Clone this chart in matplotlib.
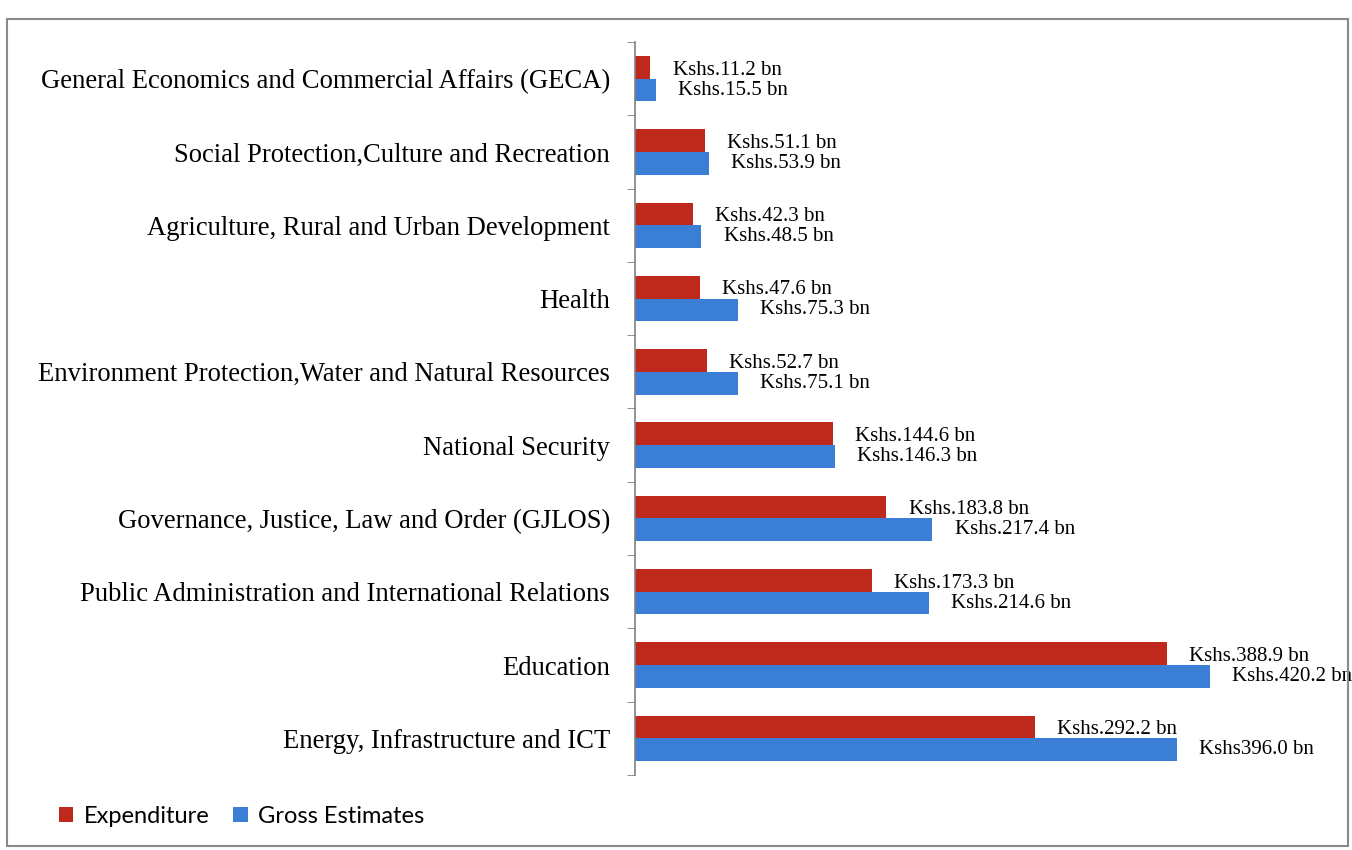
import matplotlib
matplotlib.use("Agg")
import matplotlib.pyplot as plt
from matplotlib.patches import Rectangle
import numpy as np

# Sector data (Kshs bn), top to bottom as shown
sectors = [
    "General Economics and Commercial Affairs (GECA)",
    "Social Protection,Culture and Recreation",
    "Agriculture, Rural and Urban Development",
    "Health",
    "Environment Protection,Water and Natural Resources",
    "National Security",
    "Governance, Justice, Law and Order (GJLOS)",
    "Public Administration and International Relations",
    "Education",
    "Energy, Infrastructure and ICT",
]
expenditure = [11.2, 51.1, 42.3, 47.6, 52.7, 144.6, 183.8, 173.3, 388.9, 292.2]
gross = [15.5, 53.9, 48.5, 75.3, 75.1, 146.3, 217.4, 214.6, 420.2, 396.0]
exp_labels = ["Kshs.11.2 bn", "Kshs.51.1 bn", "Kshs.42.3 bn", "Kshs.47.6 bn",
              "Kshs.52.7 bn", "Kshs.144.6 bn", "Kshs.183.8 bn", "Kshs.173.3 bn",
              "Kshs.388.9 bn", "Kshs.292.2 bn"]
gross_labels = ["Kshs.15.5 bn", "Kshs.53.9 bn", "Kshs.48.5 bn", "Kshs.75.3 bn",
                "Kshs.75.1 bn", "Kshs.146.3 bn", "Kshs.217.4 bn", "Kshs.214.6 bn",
                "Kshs.420.2 bn", "Kshs396.0 bn"]

RED = "#BE281D"
BLUE = "#3A7FD5"
serif = "Liberation Serif"

fig = plt.figure(figsize=(13.52, 8.5), dpi=100)
ax = fig.add_axes([635 / 1352, 1 - 775 / 850, 1 - 635 / 1352, (775 - 42) / 850])

y = np.arange(len(sectors))
h = 0.31
b1 = ax.barh(y - h / 2, expenditure, height=h, color=RED, label="Expenditure")
b2 = ax.barh(y + h / 2, gross, height=h, color=BLUE, label="Gross Estimates")

for yi, v, t in zip(y, expenditure, exp_labels):
    ax.annotate(t, (v, yi - h / 2), xytext=(16, -2), textcoords="offset points",
                va="center", ha="left", fontsize=15, family=serif)
for yi, v, t in zip(y, gross, gross_labels):
    ax.annotate(t, (v, yi + h / 2), xytext=(16, 0), textcoords="offset points",
                va="center", ha="left", fontsize=15, family=serif)

ax.set_ylim(len(sectors) - 0.5, -0.5)
ax.set_xlim(0, 524)
ax.set_yticks(y)
ax.set_yticklabels(sectors, fontsize=19.2, family=serif)
ax.tick_params(axis="y", which="major", length=0, pad=18)
ax.set_yticks(np.arange(-0.5, len(sectors)), minor=True)
ax.tick_params(axis="y", which="minor", length=6, direction="out", color="#808080")
ax.set_xticks([])
for s in ["top", "right", "bottom"]:
    ax.spines[s].set_visible(False)
ax.spines["left"].set_color("#808080")
ax.spines["left"].set_linewidth(1.2)

fig.legend(handles=[b1, b2], loc="lower left", bbox_to_anchor=(38 / 1352, 1 - 848 / 850),
           ncol=2, frameon=False, handlelength=0.6, handleheight=0.6, handletextpad=0.45,
           columnspacing=1.0, prop={"family": "Lato", "size": 17})

# outer chart frame
fig.patches.append(Rectangle((7 / 1352, 1 - 846 / 850), 1341 / 1352, (846 - 19) / 850,
                             transform=fig.transFigure, fill=False,
                             edgecolor="#8a8a8a", linewidth=1.5))

fig.savefig("out.png", dpi=100)
